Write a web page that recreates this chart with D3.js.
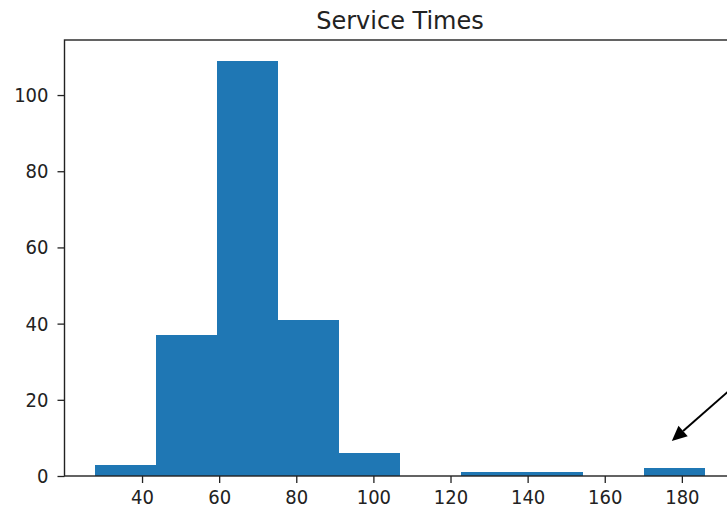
<!DOCTYPE html>
<html>
<head>
<meta charset="utf-8">
<script src="https://cdn.jsdelivr.net/npm/d3@7"></script>
<style>
  html, body { margin: 0; padding: 0; background: #fff; overflow: hidden; }
  svg { display: block; }
  .tick text { font-family: "DejaVu Sans Condensed", "DejaVu Sans", sans-serif; font-stretch: condensed; fill: #222; }
</style>
</head>
<body>
<svg id="chart" width="727" height="511"></svg>
<script>
// Histogram of service times: ten bins
const binEdges = [27.8, 43.6, 59.5, 75.3, 91.1, 106.9, 122.8, 138.6, 154.4, 170.2, 186.0];
const counts   = [3, 37, 109, 41, 6, 0, 1, 1, 0, 2];
const xTicks = [40, 60, 80, 100, 120, 140, 160, 180];
const yTicks = [0, 20, 40, 60, 80, 100];
const title = "Service Times";
// Annotation arrow: tail and head, in data units
const arrowTail = [200, 29.3];
const arrowHead = [177.4, 9.2];

const bins = counts.map((c, i) => ({ x0: binEdges[i], x1: binEdges[i + 1], count: c }));

const svg = d3.select("#chart");
const plot = { left: 64.5, right: 735.5, top: 40, bottom: 476 };

// 5% padding on x like the usual autoscale
const span = binEdges[binEdges.length - 1] - binEdges[0];
const x = d3.scaleLinear()
  .domain([binEdges[0] - 0.05 * span, binEdges[binEdges.length - 1] + 0.05 * span])
  .range([plot.left, plot.right]);
const y = d3.scaleLinear()
  .domain([0, d3.max(counts) * 1.05])
  .range([plot.bottom, plot.top]);

// Bars: snapped to whole pixels so neighbouring bins join without seams
svg.append("g")
  .attr("shape-rendering", "crispEdges")
  .selectAll("rect")
  .data(bins.filter(d => d.count > 0))
  .join("rect")
  .attr("x", d => Math.round(x(d.x0)))
  .attr("y", d => Math.round(y(d.count)))
  .attr("width", d => Math.round(x(d.x1)) - Math.round(x(d.x0)))
  .attr("height", d => Math.round(y(0)) - Math.round(y(d.count)))
  .attr("fill", "#1f77b4");

// Axes
const xAxis = svg.append("g")
  .attr("transform", `translate(0,${plot.bottom})`)
  .call(d3.axisBottom(x).tickValues(xTicks).tickSize(7).tickSizeOuter(0).tickPadding(7));
const yAxis = svg.append("g")
  .attr("transform", `translate(${plot.left},0)`)
  .call(d3.axisLeft(y).tickValues(yTicks).tickSize(7).tickSizeOuter(0).tickPadding(9));

[xAxis, yAxis].forEach(g => {
  g.select(".domain").remove();
  g.selectAll(".tick line").attr("stroke", "#222").attr("stroke-width", 1.3);
  g.selectAll(".tick text").attr("font-size", 20);
});

// Frame
svg.append("rect")
  .attr("x", plot.left).attr("y", plot.top)
  .attr("width", plot.right - plot.left).attr("height", plot.bottom - plot.top)
  .attr("fill", "none").attr("stroke", "#222").attr("stroke-width", 1.4);

// Title
svg.append("text")
  .attr("x", (plot.left + plot.right) / 2)
  .attr("y", 28.5)
  .attr("text-anchor", "middle")
  .attr("font-family", "DejaVu Sans, sans-serif")
  .attr("font-size", 24)
  .attr("fill", "#222")
  .text(title);

// Annotation arrow
const tx = x(arrowTail[0]), ty = y(arrowTail[1]);
const hx = x(arrowHead[0]), hy = y(arrowHead[1]);
const len = Math.hypot(hx - tx, hy - ty);
const ux = (hx - tx) / len, uy = (hy - ty) / len;
const headLen = 15, headHalf = 7;
const bx = hx - ux * headLen, by = hy - uy * headLen;
svg.append("line")
  .attr("x1", tx).attr("y1", ty).attr("x2", bx).attr("y2", by)
  .attr("stroke", "#000").attr("stroke-width", 2);
svg.append("polygon")
  .attr("points", [
    [hx, hy],
    [bx - uy * headHalf, by + ux * headHalf],
    [bx + uy * headHalf, by - ux * headHalf]
  ].map(p => p.join(",")).join(" "))
  .attr("fill", "#000");
</script>
</body>
</html>
